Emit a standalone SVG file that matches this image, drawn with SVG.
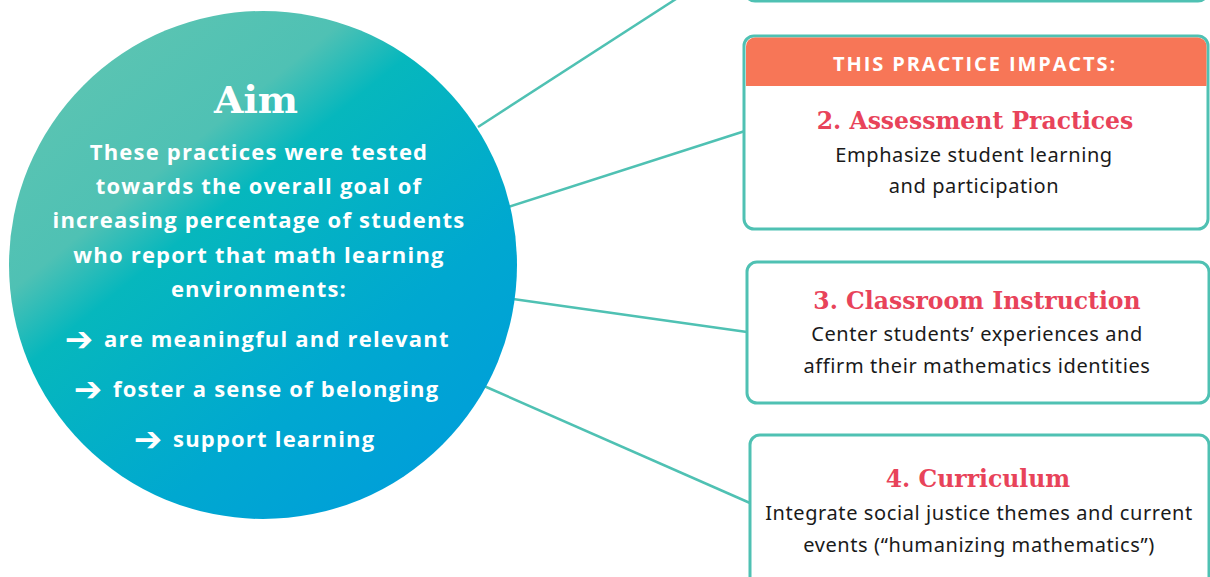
<svg xmlns="http://www.w3.org/2000/svg" width="1210" height="577" viewBox="0 0 1210 577">
<defs>
<linearGradient id="g" x1="0.15" y1="0.1" x2="0.8" y2="0.9">
<stop offset="0" stop-color="#5bc4b2"/>
<stop offset="0.25" stop-color="#4fc1b4"/>
<stop offset="0.38" stop-color="#06b7bd"/>
<stop offset="0.75" stop-color="#00a8d0"/>
<stop offset="1" stop-color="#00a0d8"/>
</linearGradient>
<style>
.box{fill:#fff;stroke:#4fc1b3;stroke-width:3}
.con{stroke:#4fc1b3;stroke-width:2.5;fill:none}
.aim{font-family:"DejaVu Serif",serif;font-weight:bold;font-size:38px;fill:#fff;text-anchor:middle}
.body{font-family:"Open Sans","Liberation Sans",sans-serif;font-weight:bold;font-size:22px;letter-spacing:1.2px;fill:#fff;text-anchor:middle}
.bl{font-family:"Open Sans","Liberation Sans",sans-serif;font-weight:bold;font-size:22px;letter-spacing:1.2px;fill:#fff}
.arr{font-family:"DejaVu Sans",sans-serif;font-weight:bold;font-size:34px;fill:#fff;text-anchor:middle}
.hdr{font-family:"Open Sans","Liberation Sans",sans-serif;font-weight:bold;font-size:20px;letter-spacing:1.9px;fill:#fff;text-anchor:middle}
.ttl{font-family:"DejaVu Serif",serif;font-weight:bold;font-size:23.5px;fill:#e8435a;text-anchor:middle}
.txt{font-family:"Noto Sans","Liberation Sans",sans-serif;font-size:20px;letter-spacing:0.6px;fill:#1a1a1a;text-anchor:middle}
</style>
</defs>
<g id="connectors">
<line class="con" x1="478" y1="127" x2="676" y2="-1"/>
<line class="con" x1="508" y1="207" x2="745" y2="131"/>
<line class="con" x1="513" y1="299" x2="747" y2="332"/>
<line class="con" x1="484" y1="386" x2="750" y2="503"/>
</g>
<g id="aim">
<circle cx="263" cy="265" r="254" fill="url(#g)"/>
<text class="aim" x="256" y="113">Aim</text>
<text class="body" x="259" y="160">These practices were tested</text>
<text class="body" x="259" y="194">towards the overall goal of</text>
<text class="body" x="259" y="228">increasing percentage of students</text>
<text class="body" x="259" y="263">who report that math learning</text>
<text class="body" x="259" y="297">environments:</text>
<text class="arr" x="79" y="351">➔</text>
<text class="bl" x="104" y="347">are meaningful and relevant</text>
<text class="arr" x="88" y="401">➔</text>
<text class="bl" x="113" y="397">foster a sense of belonging</text>
<text class="arr" x="148" y="451">➔</text>
<text class="bl" x="173" y="447">support learning</text>
</g>
<g id="box1">
<rect class="box" x="745" y="-40" width="463" height="41" rx="10"/>
</g>
<g id="box2">
<rect class="box" x="744" y="36" width="464" height="193" rx="10"/>
<path d="M746 86 V47 A9 9 0 0 1 755 37.5 H1197 A9 9 0 0 1 1206.5 47 V86 Z" fill="#f77657"/>
<text class="hdr" x="975" y="71">THIS PRACTICE IMPACTS:</text>
<text class="ttl" x="975" y="129">2. Assessment Practices</text>
<text class="txt" x="974" y="162">Emphasize student learning</text>
<text class="txt" x="974" y="193">and participation</text>
</g>
<g id="box3">
<rect class="box" x="747" y="262" width="462" height="141" rx="10"/>
<text class="ttl" x="977" y="309">3. Classroom Instruction</text>
<text class="txt" x="977" y="341">Center students’ experiences and</text>
<text class="txt" x="977" y="373">affirm their mathematics identities</text>
</g>
<g id="box4">
<rect class="box" x="750" y="435" width="459" height="160" rx="10"/>
<text class="ttl" x="978" y="487">4. Curriculum</text>
<text class="txt" x="979" y="520">Integrate social justice themes and current</text>
<text class="txt" x="979" y="552">events (“humanizing mathematics”)</text>
</g>
</svg>
